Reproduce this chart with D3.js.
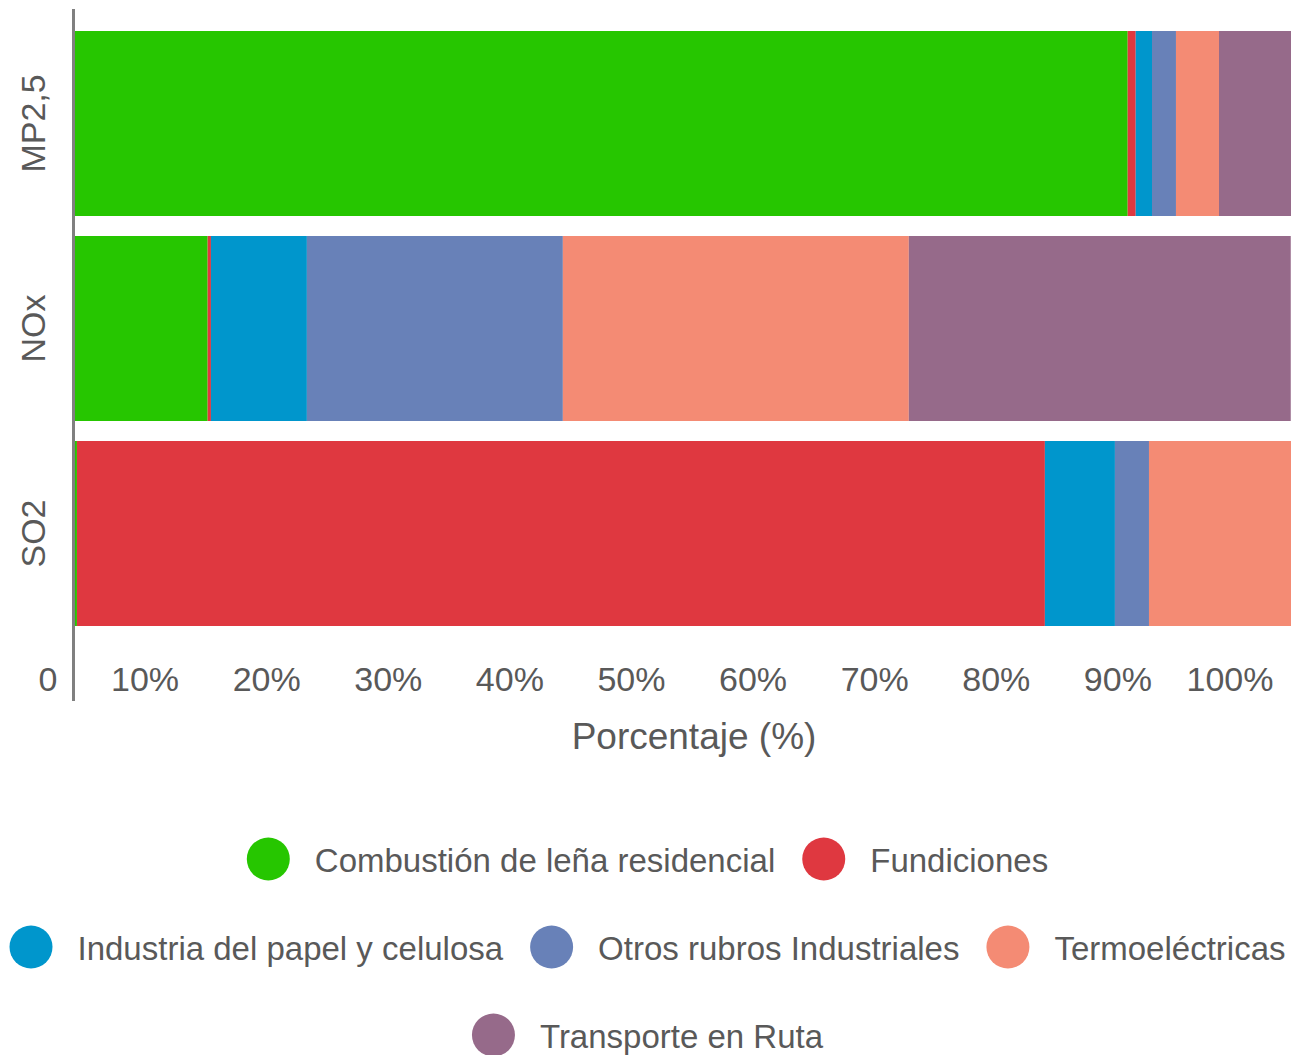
<!DOCTYPE html>
<html>
<head>
<meta charset="utf-8">
<script src="https://cdn.jsdelivr.net/npm/d3@7"></script>
<style>
  html, body { margin: 0; padding: 0; background: #fff; }
  svg { display: block; }
  text { font-family: "Liberation Sans", Arial, sans-serif; fill: #595959; }
</style>
</head>
<body>
<svg id="chart" width="1295" height="1055"></svg>
<script>
// ---- data ----
const categories = ["MP2,5", "NOx", "SO2"];
const seriesNames = [
  "Combustión de leña residencial",
  "Fundiciones",
  "Industria del papel y celulosa",
  "Otros rubros Industriales",
  "Termoeléctricas",
  "Transporte en Ruta"
];
const combustion = [86.57, 10.91, 0.16];
const fundiciones = [0.66, 0.27, 79.6];
const papel = [1.34, 7.89, 5.76];
const otros = [1.97, 21.05, 2.80];
const termo = [3.54, 28.45, 11.68];
const transporte = [5.92, 31.41, 0];
const colors = ["#26C600", "#DF3840", "#0096CC", "#6881B8", "#F48B74", "#966A8A"];
const tickValues = [0, 10, 20, 30, 40, 50, 60, 70, 80, 90, 100];
const tickLabels = ["0", "10%", "20%", "30%", "40%", "50%", "60%", "70%", "80%", "90%", "100%"];
const axisTitle = "Porcentaje (%)";
const legendRows = [[0, 1], [2, 3, 4], [5]];

// ---- build table ----
const seriesValues = [combustion, fundiciones, papel, otros, termo, transporte];
const table = categories.map((c, i) => {
  const row = { cat: c };
  seriesNames.forEach((s, j) => row[s] = seriesValues[j][i]);
  return row;
});

const svg = d3.select("#chart");

const x = d3.scaleLinear().domain([0, 100]).range([75, 1291]);
const y = d3.scaleBand().domain(categories).range([31, 626]).paddingInner(0.0976).paddingOuter(0);
const color = d3.scaleOrdinal().domain(seriesNames).range(colors);

const stack = d3.stack().keys(seriesNames);
const stacked = stack(table);

// bars
svg.append("g").selectAll("g")
  .data(stacked)
  .join("g")
  .attr("fill", d => color(d.key))
  .selectAll("rect")
  .data(d => d)
  .join("rect")
  .attr("x", d => x(d[0]))
  .attr("width", d => Math.max(0, x(d[1]) - x(d[0])))
  .attr("y", d => y(d.data.cat))
  .attr("height", y.bandwidth());

// y axis line
svg.append("line")
  .attr("x1", 73.5).attr("x2", 73.5)
  .attr("y1", 9).attr("y2", 701)
  .attr("stroke", "#808080").attr("stroke-width", 3);

// x tick labels
const xAxis = d3.axisBottom(x)
  .tickValues(tickValues)
  .tickFormat((d, i) => tickLabels[i])
  .tickSize(0);
const gx = svg.append("g").attr("transform", "translate(0,691)").call(xAxis);
gx.select(".domain").remove();
gx.selectAll("text")
  .attr("y", 0).attr("dy", 0).attr("x", -18)
  .attr("text-anchor", "end")
  .attr("font-size", 34)
  .attr("font-family", "Liberation Sans, Arial, sans-serif")
  .attr("fill", "#595959");

// x axis title
svg.append("text")
  .attr("x", (x(0) + x(100)) / 2 + 11)
  .attr("y", 749)
  .attr("text-anchor", "middle")
  .attr("font-size", 37)
  .text(axisTitle);

// y category labels
svg.append("g").selectAll("text")
  .data(categories)
  .join("text")
  .attr("transform", d => `translate(45,${y(d) + y.bandwidth() / 2}) rotate(-90)`)
  .attr("text-anchor", "middle")
  .attr("font-size", 34)
  .text(d => d);

// legend
const legendCenterX = 647.5;
const rowY = [859, 947, 1035];
const R = 21.5, gapCT = 25, gapTC = 27;
const lg = svg.append("g");
legendRows.forEach((row, ri) => {
  const g = lg.append("g");
  let cx = 0;
  row.forEach((si, k) => {
    if (k > 0) cx += gapTC;
    g.append("circle")
      .attr("cx", cx + R).attr("cy", rowY[ri]).attr("r", R)
      .attr("fill", colors[si]);
    cx += 2 * R + gapCT;
    const t = g.append("text")
      .attr("x", cx).attr("y", rowY[ri] + 13)
      .attr("font-size", 33)
      .text(seriesNames[si]);
    cx += t.node().getComputedTextLength();
  });
  g.attr("transform", `translate(${legendCenterX - cx / 2},0)`);
});
</script>
</body>
</html>
